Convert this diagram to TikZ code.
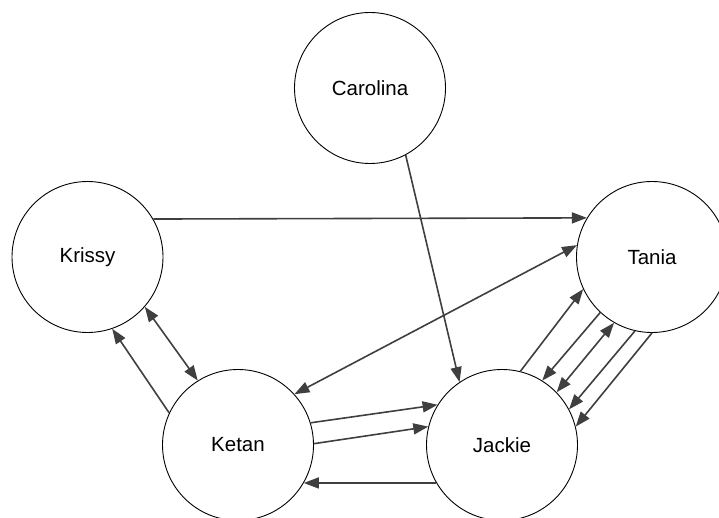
\documentclass[tikz,border=0pt]{standalone}
\usepackage{fontspec}
\setmainfont{Liberation Sans}
\usetikzlibrary{arrows.meta}
\definecolor{linkgray}{HTML}{3F3F3F}
\begin{document}
\begin{tikzpicture}[x=1pt,y=-1pt,
  person/.style={circle, draw=black, line width=0.9pt, minimum size=151pt,
    inner sep=0pt, font=\fontsize{20.5}{24}\selectfont},
  tip/.tip={Triangle[length=15pt,width=11pt]},
  link/.style={draw=linkgray, line width=1.6pt, -tip},
  both/.style={draw=linkgray, line width=1.6pt, tip-tip}]
\useasboundingbox (0,0) rectangle (719,518);
\clip (0,0) rectangle (719,518);

% people
\node[person] (carolina) at (370,88)    {Carolina};
\node[person] (krissy)   at (87.5,257)  {Krissy};
\node[person] (tania)    at (652,257)   {Tania};
\node[person] (ketan)    at (238,445)   {Ketan};
\node[person] (jackie)   at (502,445)   {Jackie};

% relations
\draw[link] (carolina.-62) -- (jackie.124);
\draw[link] (krissy.30) -- (tania.149);
\draw[both] (ketan.42) -- (tania.171);
\draw[both] (krissy.-41) -- (ketan.122);
\draw[link] (ketan.155) -- (krissy.-71);
\draw[link] (ketan.17) -- (jackie.148);
\draw[link] (ketan.1) -- (jackie.166);
\draw[link] (jackie.210) -- (ketan.-30);

% Jackie / Tania bundle
\draw[link] (jackie.76) -- (tania.205);
\draw[link] (tania.227) -- (jackie.58);
\draw[both] (tania.240.5) -- (jackie.44);
\draw[link] (tania.257) -- (jackie.28);
\draw[link] (tania.270.5) -- (jackie.14);
\end{tikzpicture}
\end{document}
